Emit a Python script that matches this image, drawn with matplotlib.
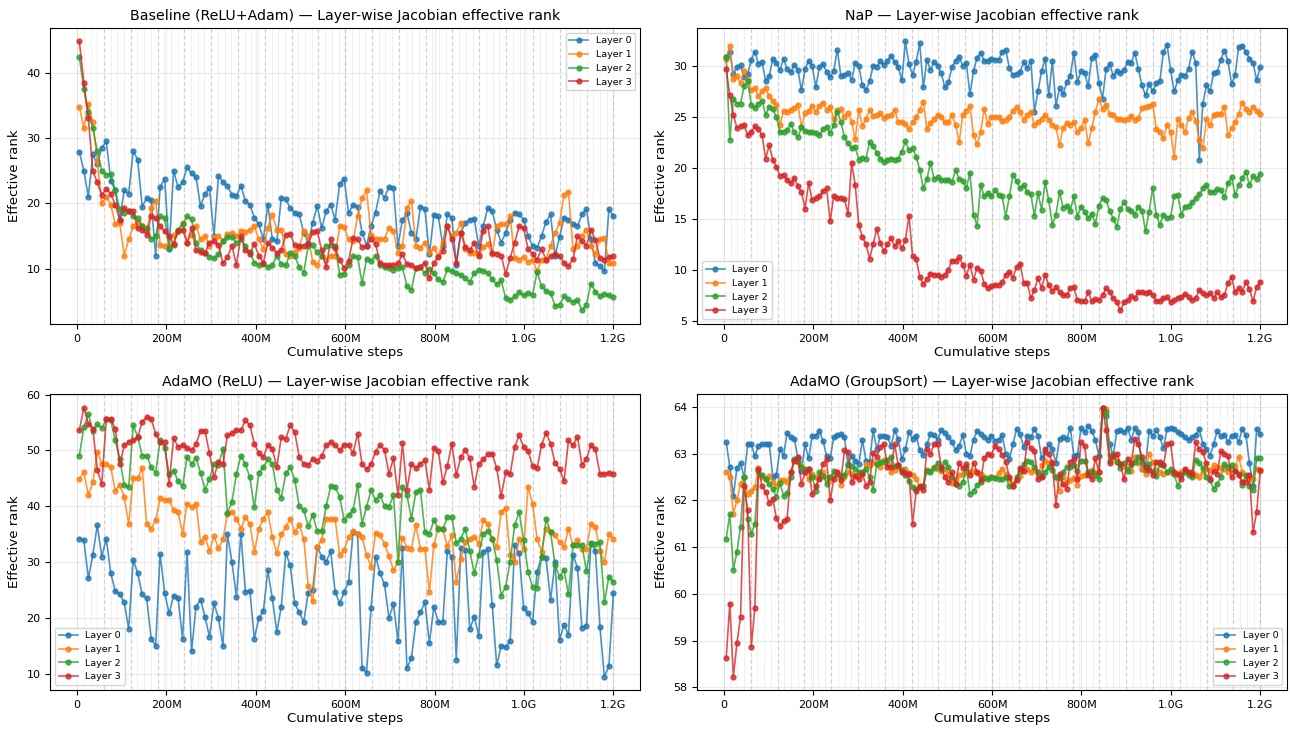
import numpy as np
import matplotlib
matplotlib.use("Agg")
import matplotlib.pyplot as plt
from matplotlib.ticker import FuncFormatter, MultipleLocator

# ---- Baseline (ReLU+Adam), 120 evaluations ----
base_l0 = [27.9, 25.0, 21.0, 27.5, 26.0, 28.5, 29.5, 23.5, 22.0, 17.5,
           22.0, 21.5, 28.0, 26.7, 19.5, 20.8, 20.5, 12.0, 22.5, 23.8,
           13.0, 25.0, 22.5, 23.2, 25.5, 24.6, 24.0, 19.6, 21.5, 22.3,
           15.0, 24.2, 23.3, 22.7, 21.3, 21.1, 22.7, 20.4, 19.8, 17.8,
           16.8, 14.5, 19.8, 14.5, 14.2, 20.9, 20.6, 19.3, 18.5, 18.3,
           15.5, 14.0, 17.0, 19.6, 16.2, 18.8, 19.8, 17.5, 23.0, 23.8,
           18.5, 19.8, 19.5, 15.5, 13.5, 16.5, 18.6, 21.9, 20.9, 22.5,
           22.3, 13.5, 17.5, 18.5, 15.5, 14.5, 19.5, 19.1, 12.2, 18.2,
           18.0, 13.5, 18.3, 17.8, 10.6, 15.5, 17.0, 17.5, 17.6, 13.5,
           16.5, 19.3, 18.8, 16.0, 14.0, 15.5, 17.5, 18.6, 18.3, 17.5,
           15.0, 13.5, 13.2, 15.0, 17.2, 18.3, 12.0, 14.8, 17.8, 17.5,
           16.8, 16.5, 18.3, 19.1, 14.5, 10.9, 10.4, 9.6, 19.1, 18.0]
base_l1 = [34.8, 31.5, 35.2, 32.5, 26.5, 20.0, 21.0, 19.8, 16.8, 17.0,
           12.0, 14.5, 16.5, 17.2, 16.5, 15.7, 19.3, 20.4, 13.7, 13.5,
           13.7, 15.2, 15.8, 17.0, 14.0, 15.2, 16.5, 14.5, 15.0, 13.5,
           14.8, 15.0, 14.3, 15.3, 15.5, 15.0, 15.8, 15.6, 16.0, 16.5,
           14.5, 13.0, 16.3, 18.2, 16.0, 16.0, 12.2, 12.0, 12.5, 13.2,
           15.8, 15.0, 11.0, 10.6, 12.0, 11.4, 12.0, 12.0, 16.5, 16.4,
           14.5, 14.2, 18.0, 20.8, 22.0, 15.2, 14.5, 14.5, 14.6, 16.3,
           15.8, 12.4, 13.4, 19.3, 20.4, 13.5, 13.2, 14.0, 12.5, 13.2,
           12.0, 14.0, 16.5, 15.0, 15.5, 17.0, 13.0, 12.4, 12.4, 12.2,
           13.3, 13.8, 12.2, 16.5, 16.8, 16.8, 18.0, 11.6, 11.4, 11.8,
           11.0, 11.4, 9.6, 11.4, 11.4, 13.5, 15.5, 17.0, 21.3, 21.8,
           13.0, 13.5, 15.0, 16.0, 13.5, 12.2, 14.5, 14.7, 10.8, 10.8]
base_l2 = [42.4, 37.5, 34.0, 31.5, 28.0, 25.0, 24.4, 24.5, 22.0, 19.1,
           18.6, 18.8, 18.0, 17.7, 16.5, 16.2, 14.5, 15.0, 18.0, 17.8,
           13.2, 13.7, 16.0, 16.8, 18.0, 17.6, 14.0, 12.8, 12.4, 11.8,
           11.6, 12.2, 14.2, 14.8, 14.8, 14.0, 14.5, 13.5, 12.5, 10.9,
           10.6, 10.7, 10.3, 10.5, 12.0, 10.7, 10.5, 12.4, 12.0, 10.2,
           9.4, 13.5, 13.6, 12.5, 12.0, 13.5, 13.7, 13.5, 9.1, 9.2,
           10.5, 11.9, 11.8, 7.8, 11.5, 11.2, 12.0, 10.5, 10.3, 10.1,
           9.8, 10.1, 10.2, 7.3, 6.8, 10.1, 10.2, 9.3, 10.0, 9.3,
           8.4, 7.9, 9.9, 9.6, 9.3, 9.0, 8.5, 8.0, 9.3, 9.8,
           9.7, 9.3, 8.4, 7.6, 8.2, 5.5, 5.2, 5.8, 6.4, 5.9,
           6.3, 6.0, 9.5, 7.3, 6.6, 6.3, 4.3, 4.4, 5.8, 5.3,
           4.9, 5.2, 3.6, 4.5, 7.7, 6.5, 5.8, 6.1, 5.9, 5.6]
base_l3 = [44.8, 38.5, 33.0, 25.0, 23.2, 21.3, 22.2, 21.5, 19.8, 17.5,
           19.3, 18.8, 18.8, 16.2, 16.0, 15.2, 18.0, 17.7, 16.5, 15.7,
           15.0, 13.8, 15.8, 16.0, 14.0, 16.2, 12.8, 12.5, 12.4, 14.0,
           14.2, 13.6, 10.8, 11.8, 13.5, 10.6, 15.0, 12.8, 12.3, 13.8,
           12.0, 10.9, 14.0, 13.2, 12.4, 12.8, 15.2, 15.3, 13.6, 13.5,
           13.5, 13.8, 15.6, 15.8, 12.8, 10.2, 14.5, 13.2, 11.4, 10.1,
           11.2, 14.7, 14.5, 13.3, 13.5, 14.5, 13.8, 10.9, 10.6, 10.5,
           10.5, 10.8, 12.2, 10.7, 10.6, 10.1, 10.3, 10.9, 8.5, 10.9,
           11.8, 12.7, 16.5, 14.5, 10.9, 15.5, 13.3, 12.8, 14.0, 11.9,
           15.8, 16.5, 12.4, 12.3, 12.0, 9.2, 11.6, 14.0, 16.5, 16.2,
           13.0, 12.3, 11.4, 13.0, 11.4, 11.9, 12.3, 11.9, 10.9, 10.4,
           11.5, 15.0, 14.2, 13.5, 16.0, 14.4, 11.6, 11.4, 11.8, 11.9]

# ---- NaP, 150 evaluations ----
nap_l0 = [30.9, 31.4, 29.2, 29.9, 30.1, 28.9, 29.2, 30.6, 31.4, 30.2,
          30.4, 28.5, 29.0, 30.7, 30.3, 29.6, 30.7, 29.7, 29.4, 30.1,
          29.6, 27.6, 29.7, 30.5, 30.0, 27.9, 29.9, 30.2, 29.4, 28.9,
          29.5, 31.6, 29.0, 29.1, 29.3, 28.6, 30.3, 30.0, 28.1, 27.6,
          28.5, 30.0, 29.9, 30.5, 30.1, 30.5, 31.0, 30.4, 29.9, 28.6,
          32.4, 30.2, 29.1, 30.4, 32.2, 27.9, 30.6, 29.6, 30.4, 30.0,
          29.3, 27.9, 28.4, 29.9, 30.5, 30.9, 30.0, 30.3, 27.2, 29.5,
          30.8, 31.3, 30.5, 30.5, 30.7, 30.6,
          30.6, 31.4, 31.6, 29.8, 29.1, 29.2, 29.4, 30.4, 29.8, 30.5,
          25.5, 27.5, 29.5, 30.7, 27.1, 30.5, 26.1, 27.8, 27.2, 28.4,
          29.0, 31.3, 28.4, 29.5, 29.3, 28.0, 30.8, 31.1, 28.3, 26.8,
          29.7, 30.2, 29.0, 29.5, 29.3, 29.6, 30.4, 30.3, 31.3, 29.7,
          28.1, 27.1, 28.2, 27.5, 28.3, 28.5, 31.4, 32.1, 29.6, 27.5,
          28.6, 29.1, 29.0, 29.7, 31.4, 30.3, 20.8, 26.3, 28.1, 27.5,
          29.3, 29.4, 30.6, 31.5, 30.5, 28.2, 29.1, 31.9, 32.0, 31.4,
          30.7, 30.3, 28.6, 29.9]
nap_l1 = [30.7, 32.0, 28.7, 29.0, 28.3, 29.5, 28.6, 27.6, 27.8, 27.0,
          27.5, 27.8, 27.0, 26.6, 26.2, 24.2, 25.6, 25.5, 25.7, 25.9,
          26.2, 24.0, 25.4, 25.6, 26.1, 25.5, 26.1, 26.4, 25.7, 26.0,
          24.8, 25.7, 25.8, 25.0, 25.4, 24.5, 22.8, 25.7, 24.1, 24.8,
          25.7, 25.1, 25.2, 25.4, 24.9, 25.1, 25.2, 25.7, 24.5, 24.5,
          24.3, 23.8, 24.5, 25.0, 25.7, 26.5, 23.8, 24.4, 24.8, 25.2,
          25.0, 24.5, 24.5, 25.2, 24.2, 22.5, 25.2, 25.6, 26.1, 23.2,
          22.3, 23.5, 25.8, 24.3, 25.0, 25.0,
          25.0, 24.6, 24.7, 25.0, 25.6, 26.0, 25.5, 24.7, 25.2, 25.5,
          24.2, 24.5, 24.8, 25.2, 24.7, 24.2, 24.0, 22.2, 23.9, 24.4,
          24.2, 24.5, 23.5, 23.9, 24.7, 22.4, 23.9, 25.5, 26.8, 25.8,
          26.2, 25.3, 25.2, 24.8, 24.8, 24.7, 24.8, 25.1, 24.7, 24.9,
          25.9, 26.0, 26.1, 26.3, 23.8, 23.5, 22.9, 24.2, 23.5, 21.1,
          24.8, 24.2, 23.5, 24.9, 25.5, 24.6, 22.7, 21.9, 24.8, 24.2,
          25.2, 25.3, 25.3, 26.0, 23.2, 23.9, 24.5, 25.3, 26.4, 25.8,
          25.5, 26.0, 25.6, 25.3]
nap_l2 = [30.9, 22.7, 26.8, 26.3, 26.3, 28.0, 28.5, 26.2, 25.9, 26.3,
          26.6, 25.2, 26.0, 25.8, 25.0, 23.5, 23.5, 23.7, 24.3, 23.5,
          23.0, 24.0, 23.6, 23.5, 23.5, 23.4, 23.2, 23.8, 24.0, 23.4,
          24.2, 25.5, 24.5, 23.0, 22.4, 21.9, 22.0, 20.8, 21.0, 20.9,
          22.5, 22.1, 21.5, 20.9, 20.6, 20.8, 20.9, 20.8, 20.9, 21.6,
          22.6, 21.7, 21.9, 21.1, 19.8, 18.0, 18.9, 20.5, 18.9, 19.1,
          18.8, 18.8, 18.8, 18.6, 19.8, 18.9, 18.7, 18.0, 19.5, 15.4,
          14.3, 18.3, 17.2, 17.5, 17.2, 17.8,
          17.3, 17.2, 15.2, 17.2, 19.3, 18.7, 18.0, 18.3, 17.6, 17.4,
          15.3, 17.5, 15.9, 18.6, 16.8, 14.4, 15.4, 17.6, 16.1, 16.3,
          15.8, 17.2, 15.2, 16.2, 15.7, 15.1, 15.5, 14.5, 16.3, 17.0,
          16.8, 15.8, 15.0, 14.2, 16.0, 16.6, 16.0, 15.8, 15.4, 16.2,
          15.8, 13.8, 15.7, 18.0, 15.4, 14.4, 15.4, 15.1, 15.2, 17.2,
          17.3, 15.4, 16.2, 16.3, 16.6, 17.0, 17.4, 18.0, 18.3, 17.6,
          17.6, 17.9, 17.8, 17.1, 18.5, 19.1, 17.3, 18.3, 19.0, 19.6,
          18.3, 19.2, 18.9, 19.4]
nap_l3 = [29.7, 27.1, 25.2, 23.9, 24.1, 24.2, 23.2, 23.5, 24.1, 23.8,
          23.2, 20.9, 22.2, 20.8, 20.1, 19.2, 19.3, 18.8, 18.5, 19.0,
          18.2, 17.6, 16.0, 18.5, 16.8, 17.0, 17.2, 17.7, 18.0, 14.8,
          17.2, 17.0, 17.0, 16.9, 15.5, 20.5, 18.3, 14.4, 13.2, 12.5,
          11.1, 12.5, 14.0, 12.6, 11.8, 12.5, 13.1, 12.3, 12.8, 12.1,
          12.9, 15.3, 11.3, 11.1, 9.3, 8.6, 9.1, 9.6, 9.5, 9.5,
          9.3, 9.5, 10.0, 10.9, 10.9, 11.2, 10.5, 9.4, 10.5, 9.0,
          10.2, 9.9, 8.6, 8.2, 8.4, 8.5,
          8.5, 8.8, 9.5, 9.8, 9.2, 10.3, 10.6, 8.7, 8.7, 7.2,
          8.0, 9.2, 8.2, 9.5, 8.5, 7.9, 8.3, 7.8, 7.5, 7.5,
          8.2, 8.3, 7.0, 6.9, 6.9, 7.8, 6.9, 7.1, 7.0, 7.5,
          8.2, 7.8, 7.2, 6.8, 6.0, 6.8, 7.0, 7.4, 7.2, 7.8,
          7.8, 7.7, 7.8, 7.5, 6.9, 6.9, 7.2, 7.3, 6.8, 7.0,
          7.2, 7.3, 7.6, 7.3, 7.0, 7.2, 8.0, 7.7, 7.5, 7.7,
          7.2, 7.8, 7.3, 7.5, 8.7, 9.3, 7.8, 8.2, 7.8, 8.8,
          8.1, 6.9, 8.3, 8.8]

# ---- AdaMO (ReLU), 120 evaluations ----
relu_l0 = [34.2, 34.0, 27.1, 31.3, 36.6, 31.0, 34.2, 28.0, 24.8, 24.2,
           22.8, 18.0, 30.4, 28.0, 24.2, 23.5, 16.3, 15.0, 31.5, 24.5,
           20.8, 24.0, 23.6, 16.2, 31.8, 14.0, 22.0, 23.3, 20.2, 16.6,
           22.6, 20.0, 15.0, 35.0, 30.0, 23.8, 35.1, 24.7, 24.8, 16.3,
           20.0, 21.2, 28.5, 23.5, 17.5, 22.0, 31.6, 29.4, 22.6, 21.0,
           19.3, 24.5, 25.0, 32.7, 31.0, 30.0, 32.0, 24.7, 22.6, 24.6,
           26.5, 35.4, 35.0, 11.0, 10.2, 21.8, 31.0, 28.0, 26.0, 20.0,
           22.5, 15.8, 32.6, 11.0, 12.8, 19.3, 21.0, 22.8, 15.5, 22.0,
           19.3, 19.3, 32.0, 31.0, 12.5, 32.5, 32.1, 18.0, 20.2, 16.8,
           31.9, 32.3, 22.3, 11.5, 15.0, 14.8, 15.8, 33.0, 31.6, 21.7,
           20.8, 19.3, 28.3, 31.0, 30.7, 23.2, 30.0, 16.1, 18.7, 17.0,
           31.3, 29.0, 18.2, 18.6, 33.5, 32.0, 18.4, 9.5, 11.3, 24.4]
relu_l1 = [44.9, 46.1, 42.0, 44.3, 49.8, 47.6, 47.6, 47.0, 42.8, 43.8,
           41.7, 36.8, 45.0, 45.0, 46.9, 36.9, 36.0, 37.5, 41.4, 41.1,
           41.2, 39.3, 39.0, 35.1, 40.5, 39.9, 40.5, 33.6, 34.5, 32.0,
           34.6, 32.5, 34.1, 38.6, 39.0, 37.8, 36.0, 38.0, 36.8, 31.8,
           36.0, 37.8, 39.0, 34.5, 31.6, 35.0, 36.3, 37.8, 35.4, 36.6,
           34.2, 25.8, 23.0, 32.7, 34.0, 37.8, 37.8, 37.8, 31.3, 32.2,
           34.5, 35.5, 35.0, 34.5, 31.2, 29.2, 35.2, 34.8, 33.3, 31.1,
           28.5, 30.0, 34.4, 32.6, 32.4, 36.6, 32.4, 32.3, 24.7, 33.0,
           36.2, 35.9, 32.8, 34.8, 26.5, 30.5, 33.6, 34.1, 34.5, 33.3,
           37.5, 36.9, 34.2, 32.7, 39.0, 39.7, 31.3, 30.0, 34.2, 32.4,
           43.5, 40.4, 34.2, 31.9, 36.0, 35.4, 34.8, 33.6, 32.7, 36.0,
           33.0, 34.0, 32.4, 32.4, 36.9, 36.3, 32.0, 30.0, 35.0, 34.2]
relu_l2 = [49.1, 54.2, 56.5, 53.5, 54.7, 54.0, 55.6, 55.5, 51.8, 48.5,
           43.8, 43.4, 54.5, 52.5, 49.1, 49.1, 47.0, 46.0, 51.8, 50.5,
           45.8, 46.4, 44.5, 43.6, 48.8, 47.6, 48.7, 46.0, 43.0, 44.9,
           47.5, 47.4, 50.3, 38.8, 40.8, 45.8, 49.1, 47.5, 45.2, 39.8,
           46.0, 47.0, 48.4, 47.6, 43.0, 41.5, 45.9, 47.0, 44.8, 40.0,
           39.3, 36.5, 38.5, 35.6, 35.5, 40.0, 43.6, 43.5, 41.7, 37.6,
           38.4, 39.3, 43.8, 36.9, 39.9, 42.9, 41.1, 42.0, 40.0, 39.9,
           42.0, 30.1, 43.5, 42.0, 37.8, 42.6, 43.0, 35.4, 35.0, 37.5,
           36.0, 36.0, 38.0, 38.0, 33.4, 34.2, 36.0, 32.0, 28.0, 31.3,
           35.1, 35.5, 34.2, 30.4, 24.0, 25.6, 30.1, 36.6, 39.0, 33.9,
           28.3, 25.5, 25.4, 31.0, 37.8, 35.4, 29.5, 27.4, 28.6, 24.2,
           33.0, 33.0, 33.0, 28.4, 33.3, 33.3, 33.6, 22.8, 27.4, 26.5]
relu_l3 = [53.6, 57.7, 54.8, 53.9, 46.5, 44.0, 55.7, 55.7, 53.9, 47.5,
           50.9, 51.6, 51.8, 52.4, 55.1, 56.0, 55.7, 53.0, 51.5, 51.5,
           44.0, 52.2, 50.6, 51.0, 50.4, 50.0, 51.2, 53.5, 53.5, 49.5,
           45.2, 48.0, 47.6, 52.7, 53.1, 53.6, 53.6, 55.4, 54.5, 51.2,
           49.5, 48.8, 51.0, 50.3, 47.0, 52.4, 52.1, 54.5, 53.3, 48.8,
           47.6, 47.4, 48.5, 48.2, 49.0, 50.9, 51.5, 50.9, 50.0, 51.0,
           50.9, 49.5, 53.0, 47.5, 46.6, 47.6, 49.8, 51.0, 50.1, 45.8,
           48.6, 42.0, 51.3, 43.0, 47.6, 46.9, 47.6, 48.3, 43.0, 50.5,
           49.9, 44.3, 47.2, 51.2, 45.6, 48.8, 50.1, 48.6, 43.5, 47.6,
           48.4, 49.3, 49.4, 46.8, 41.8, 46.1, 45.8, 50.6, 52.7, 50.6,
           49.9, 47.2, 46.8, 51.0, 53.2, 51.2, 47.8, 46.7, 44.5, 51.8,
           50.9, 52.5, 47.4, 48.5, 50.9, 50.2, 45.8, 45.8, 46.0, 45.8]

# ---- AdaMO (GroupSort), 150 evaluations ----
gs_l0 = [63.25, 62.72, 62.1, 62.7, 62.8, 62.5, 63.2, 63.2, 62.95, 63.17,
         63.2, 63.2, 63.21, 62.5, 62.55, 63.1, 62.95, 63.45, 63.35, 63.32,
         62.9, 62.64, 63.2, 62.9, 63.39, 63.39, 63.49, 63.28, 62.95, 62.9,
         63.35, 63.4, 63.42, 63.35, 62.76, 62.96, 62.85, 62.78, 63.3, 62.85,
         62.82, 63.5, 63.1, 63.37, 63.39, 63.35, 63.17, 63.5, 63.32, 62.88,
         63.1, 63.46, 63.32, 63.39, 63.07, 62.98, 63.2, 63.42, 63.4, 63.3,
         63.5, 63.45, 63.35, 63.25, 63.07, 63.17, 63.4, 63.0, 62.95, 63.3,
         63.49, 63.42, 63.35, 63.3, 63.39, 63.28,
         63.3, 63.4, 63.0, 62.89, 63.2, 63.53, 63.42, 63.14, 63.39, 63.35,
         63.53, 63.39, 62.9, 63.03, 63.2, 63.1, 62.8, 63.32, 63.35, 63.32,
         63.55, 62.96, 62.98, 63.55, 63.46, 63.6, 63.49, 63.3, 62.95, 63.99,
         63.8, 63.2, 62.95, 63.49, 63.5, 63.46, 63.55, 63.3, 63.55, 63.46,
         62.68, 62.75, 63.49, 63.39, 63.5, 63.35, 63.12, 63.53, 63.55, 63.53,
         63.46, 63.42, 63.35, 63.29, 63.35, 63.4, 63.53, 63.21, 63.1, 62.96,
         63.2, 63.49, 63.38, 63.4, 63.25, 63.39, 63.4, 63.25, 63.53, 63.4,
         62.8, 62.3, 63.53, 63.42]
gs_l1 = [62.62, 62.5, 61.72, 62.0, 62.36, 62.5, 62.14, 62.2, 62.29, 62.7,
         62.5, 62.47, 62.53, 62.4, 62.32, 62.43, 62.43, 62.4, 62.6, 62.86,
         62.82, 62.73, 62.6, 62.45, 62.57, 62.5, 62.49, 62.6, 62.48, 62.43,
         62.55, 62.58, 62.34, 62.5, 62.6, 62.57, 62.52, 62.57, 62.58, 62.78,
         62.75, 62.82, 62.77, 62.71, 62.87, 62.8, 62.6, 62.66, 62.71, 62.65,
         62.68, 62.58, 62.54, 62.45, 62.28, 62.3, 62.66, 62.64, 62.71, 62.68,
         62.64, 62.68, 62.57, 62.37, 62.43, 62.55, 62.57, 62.6, 62.6, 62.64,
         62.58, 62.56, 62.5, 62.49, 62.5, 62.48,
         62.58, 62.68, 62.57, 62.45, 62.36, 62.45, 62.52, 62.66, 62.68, 62.6,
         62.65, 62.57, 62.75, 62.85, 62.8, 62.82, 62.5, 62.2, 62.5, 62.4,
         62.43, 62.48, 62.34, 62.53, 62.55, 62.6, 62.66, 62.58, 62.6, 63.9,
         63.96, 62.98, 62.93, 62.84, 62.78, 62.74, 62.68, 62.63, 62.93, 62.8,
         62.68, 62.56, 63.0, 62.82, 62.66, 62.6, 62.57, 62.6, 62.62, 62.57,
         62.54, 62.6, 62.66, 62.58, 62.6, 62.55, 62.5, 62.6, 62.68, 62.66,
         62.75, 62.72, 62.7, 62.68, 62.62, 62.68, 62.73, 62.93, 62.6, 62.52,
         62.5, 62.46, 62.68, 62.64]
gs_l2 = [61.18, 61.71, 60.52, 60.9, 61.43, 62.5, 61.6, 61.28, 61.5, 62.64,
         62.55, 62.45, 62.35, 62.25, 62.07, 62.38, 62.1, 62.15, 62.5, 62.89,
         62.84, 62.72, 62.68, 62.68, 62.5, 62.21, 62.6, 62.53, 62.36, 62.5,
         62.63, 62.57, 62.52, 62.55, 62.78, 62.73, 62.68, 62.6, 62.6, 62.68,
         62.5, 62.23, 62.77, 62.83, 62.82, 62.87, 62.93, 62.73, 62.75, 62.66,
         62.55, 62.41, 62.28, 62.25, 62.28, 62.3, 62.64, 62.62, 62.7, 62.8,
         62.68, 62.83, 62.72, 62.51, 62.35, 62.32, 62.4, 62.71, 62.14, 62.2,
         62.33, 62.39, 62.48, 62.46, 62.5, 62.48,
         62.46, 62.45, 62.5, 62.3, 62.3, 62.5, 62.64, 62.78, 62.85, 62.82,
         62.72, 62.6, 62.53, 62.6, 62.72, 62.66, 62.5, 62.48, 62.6, 62.72,
         62.71, 62.75, 62.64, 62.85, 62.85, 62.6, 62.6, 62.55, 62.46, 63.99,
         63.9, 62.85, 63.0, 62.82, 62.7, 62.8, 62.64, 62.75, 62.82, 62.92,
         62.82, 62.66, 62.78, 62.6, 62.53, 62.78, 62.75, 62.6, 62.68, 62.57,
         62.3, 62.55, 62.6, 62.55, 62.5, 62.86, 62.8, 62.7, 62.5, 62.43,
         62.25, 62.35, 62.5, 62.78, 62.72, 62.75, 62.64, 62.57, 62.34, 62.55,
         62.3, 62.22, 62.9, 62.9]
gs_l3 = [58.62, 59.79, 58.23, 58.95, 59.5, 62.3, 61.8, 58.87, 59.7, 62.68,
         62.3, 62.18, 61.95, 62.04, 61.62, 61.45, 61.55, 61.6, 62.6, 62.85,
         62.92, 62.35, 62.6, 62.68, 62.13, 62.3, 62.47, 62.78, 62.89, 62.0,
         62.45, 62.6, 62.43, 63.07, 63.03, 62.39, 62.53, 62.45, 62.57, 62.32,
         62.4, 63.02, 62.93, 63.14, 63.2, 62.71, 62.71, 63.2, 62.75, 62.6,
         62.58, 62.56, 61.5, 62.2, 62.32, 62.22, 63.1, 63.0, 63.2, 63.21,
         62.72, 62.5, 62.39, 62.6, 62.35, 62.8, 62.69, 62.78, 62.55, 62.8,
         62.62, 62.43, 62.9, 63.0, 62.98, 63.17,
         63.1, 62.98, 62.83, 62.5, 62.3, 62.43, 62.7, 62.64, 63.25, 63.12,
         63.05, 62.45, 62.5, 63.1, 63.0, 62.8, 61.9, 62.57, 62.35, 62.25,
         62.83, 62.88, 62.46, 63.25, 63.16, 62.55, 62.46, 62.9, 62.6, 63.99,
         63.5, 62.8, 62.95, 63.0, 62.78, 62.45, 62.89, 62.8, 63.32, 63.2,
         62.93, 62.72, 62.65, 62.55, 62.82, 62.83, 62.75, 63.2, 63.22, 62.6,
         62.56, 62.46, 62.67, 62.6, 62.57, 63.25, 63.1, 63.03, 62.8, 62.46,
         62.64, 62.57, 63.05, 63.0, 62.95, 62.5, 62.63, 62.55, 62.4, 62.4,
         62.55, 61.32, 61.75, 62.65]

TITLES = [
    "Baseline (ReLU+Adam) \u2014 Layer-wise Jacobian effective rank",
    "NaP \u2014 Layer-wise Jacobian effective rank",
    "AdaMO (ReLU) \u2014 Layer-wise Jacobian effective rank",
    "AdaMO (GroupSort) \u2014 Layer-wise Jacobian effective rank",
]
SERIES = [
    [base_l0, base_l1, base_l2, base_l3],
    [nap_l0, nap_l1, nap_l2, nap_l3],
    [relu_l0, relu_l1, relu_l2, relu_l3],
    [gs_l0, gs_l1, gs_l2, gs_l3],
]
LEGEND_LOC = ["upper right", "lower left", "lower left", "lower right"]
LAYER_NAMES = ["Layer 0", "Layer 1", "Layer 2", "Layer 3"]
COLORS = ["#1f77b4", "#ff7f0e", "#2ca02c", "#d62728"]

TASK_STEPS = 15e6        # light boundary every task
PHASE_EVERY = 4          # dashed boundary every 4 tasks
TOTAL_STEPS = 1.2e9


def step_formatter(value, _pos):
    if abs(value) < 1:
        return "0"
    if value >= 1e9:
        return f"{value / 1e9:.1f}G"
    return f"{value / 1e6:.0f}M"


def draw_boundaries(ax):
    n_tasks = int(round(TOTAL_STEPS / TASK_STEPS))
    for i in range(n_tasks + 1):
        b = i * TASK_STEPS
        if i > 0 and i % PHASE_EVERY == 0:
            ax.axvline(b, color="gray", ls="--", lw=0.9, alpha=0.35, zorder=0)
        else:
            ax.axvline(b, color="gray", lw=0.7, alpha=0.12, zorder=0)


def main():
    plt.rcParams.update({"font.size": 9})
    fig, axes = plt.subplots(2, 2, figsize=(12.9, 7.31), dpi=100)
    fig.subplots_adjust(left=0.039, right=0.9977, top=0.9617, bottom=0.0561,
                        wspace=0.0966, hspace=0.237)

    for ax, title, series, loc in zip(axes.flat, TITLES, SERIES, LEGEND_LOC):
        draw_boundaries(ax)
        for vals, name, color in zip(series, LAYER_NAMES, COLORS):
            steps = np.linspace(5e6, TOTAL_STEPS, len(vals))
            ax.plot(steps, vals, marker="o", ms=3.5, lw=1.2, color=color,
                    alpha=0.8, label=name, zorder=3)
        ax.set_title(title, fontsize=10.2)
        ax.set_xlabel("Cumulative steps", fontsize=9.5, labelpad=2)
        ax.set_ylabel("Effective rank", fontsize=9.5)
        ax.xaxis.set_major_locator(MultipleLocator(2e8))
        ax.xaxis.set_major_formatter(FuncFormatter(step_formatter))
        ax.tick_params(labelsize=8)
        ax.grid(True, alpha=0.25)
        ax.legend(loc=loc, fontsize=6.8)

    fig.savefig("out.png", dpi=100)
    plt.close(fig)


if __name__ == "__main__":
    main()
